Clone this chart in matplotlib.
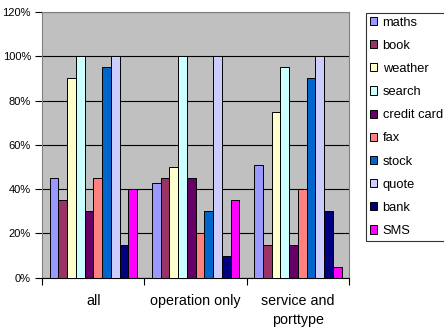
import numpy as np
import matplotlib
matplotlib.use("Agg")
import matplotlib.pyplot as plt
from matplotlib.ticker import FuncFormatter

plt.rcParams['font.family'] = ['Liberation Sans', 'DejaVu Sans']

# category groups and the percentage per service type
groups = ['all', 'operation only', 'service and\nporttype']
series = ['maths', 'book', 'weather', 'search', 'credit card',
          'fax', 'stock', 'quote', 'bank', 'SMS']
values = {
    'maths':       [45, 43, 51],
    'book':        [35, 45, 15],
    'weather':     [90, 50, 75],
    'search':      [100, 100, 95],
    'credit card': [30, 45, 15],
    'fax':         [45, 20, 40],
    'stock':       [95, 30, 90],
    'quote':       [100, 100, 100],
    'bank':        [15, 10, 30],
    'SMS':         [40, 35, 5],
}
colors = ['#9999FF', '#993366', '#FFFFCC', '#CCFFFF', '#660066',
          '#FF8080', '#0066CC', '#CCCCFF', '#000080', '#FF00FF']

fig = plt.figure(figsize=(4.44, 3.33), dpi=100)
ax = fig.add_axes([0.095, 0.166, 0.691, 0.798])
ax.set_facecolor('#C0C0C0')

x = np.arange(len(groups))
w = 1.0 / 11.7
for i, name in enumerate(series):
    ax.bar(x + (i - 4.5) * w, values[name], w, color=colors[i],
           edgecolor='black', linewidth=0.7, label=name, zorder=3)

ax.set_xlim(-0.5, 2.5)
ax.set_ylim(0, 120)
ax.set_yticks(range(0, 121, 20))
ax.yaxis.set_major_formatter(FuncFormatter(lambda v, p: '%d%%' % v))
ax.grid(axis='y', color='black', linewidth=0.8, zorder=1)
ax.set_axisbelow(True)

# category boundaries as tick marks, labels centred between them
ax.set_xticks([-0.5, 0.5, 1.5, 2.5])
ax.set_xticklabels([])
ax.set_xticks(x, minor=True)
ax.set_xticklabels(groups, minor=True, fontsize=10.3, linespacing=1.45,
                   va='top')
ax.tick_params(axis='x', which='minor', length=0, pad=12)
ax.tick_params(axis='x', which='major', length=5, width=0.8, direction='out')
ax.tick_params(axis='y', length=5, width=0.8, labelsize=8, pad=3)

for s in ['top', 'right']:
    ax.spines[s].set_color('#808080')
    ax.spines[s].set_linewidth(0.8)
ax.spines['left'].set_color('#808080')
ax.spines['bottom'].set_color('black')
ax.spines['bottom'].set_linewidth(0.8)

leg = fig.legend(loc='upper left', bbox_to_anchor=(0.824, 0.962),
                 fontsize=9.25, frameon=True, fancybox=False,
                 edgecolor='black', handlelength=0.6, handleheight=0.6,
                 handletextpad=0.4, labelspacing=0.87, borderpad=0.3,
                 borderaxespad=0)
leg.get_frame().set_linewidth(0.8)

fig.savefig('out.png', dpi=100)
